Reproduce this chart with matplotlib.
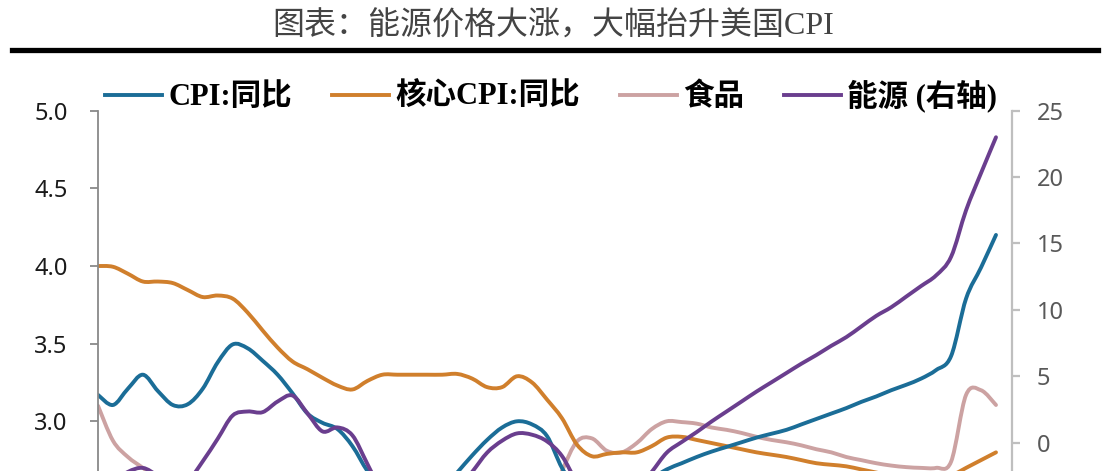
import numpy as np
import matplotlib.pyplot as plt
from matplotlib.lines import Line2D
from matplotlib.path import Path
from matplotlib.patches import PathPatch

plt.rcParams['font.family'] = ['Liberation Serif', 'Noto Sans CJK SC']

# monthly index (x-axis labels are cut off in the source picture)
idx = np.arange(61)

cpi = [3.17, 3.105, 3.21, 3.30, 3.195, 3.105, 3.11, 3.21, 3.38, 3.495,
       3.47, 3.39, 3.30, 3.18, 3.05, 2.99, 2.95, 2.84, 2.68, 2.56,
       2.50, 2.48, 2.50, 2.56, 2.67, 2.78, 2.88, 2.96, 3.00, 2.98,
       2.905, 2.70, 2.56, 2.50, 2.48, 2.50, 2.56, 2.63, 2.69, 2.73,
       2.77, 2.805, 2.835, 2.865, 2.895, 2.92, 2.945, 2.98, 3.015, 3.05,
       3.085, 3.125, 3.16, 3.20, 3.235, 3.275, 3.33, 3.42, 3.79, 3.99,
       4.20]

core = [4.00, 3.995, 3.95, 3.90, 3.90, 3.89, 3.845, 3.80, 3.81, 3.79,
        3.70, 3.585, 3.475, 3.385, 3.335, 3.28, 3.23, 3.205, 3.26, 3.30,
        3.30, 3.30, 3.30, 3.30, 3.305, 3.275, 3.22, 3.22, 3.29, 3.25,
        3.14, 3.02, 2.85, 2.775, 2.79, 2.80, 2.80, 2.84, 2.895, 2.90,
        2.88, 2.86, 2.84, 2.82, 2.80, 2.785, 2.77, 2.75, 2.73, 2.72,
        2.71, 2.69, 2.67, 2.65, 2.635, 2.62, 2.62, 2.65, 2.70, 2.75,
        2.80]

food = [3.10, 2.875, 2.77, 2.70, 2.63, 2.57, 2.53, 2.50, 2.47, 2.45,
        2.43, 2.42, 2.40, 2.40, 2.38, 2.37, 2.36, 2.36, 2.35, 2.36,
        2.38, 2.40, 2.42, 2.44, 2.45, 2.45, 2.46, 2.47, 2.46, 2.45,
        2.45, 2.68, 2.87, 2.89, 2.81, 2.80, 2.86, 2.95, 3.00, 2.995,
        2.985, 2.96, 2.945, 2.925, 2.90, 2.88, 2.865, 2.845, 2.82, 2.80,
        2.77, 2.75, 2.73, 2.715, 2.705, 2.70, 2.70, 2.74, 3.17, 3.20,
        3.105]

energy = [-4.0, -3.0, -2.2, -1.9, -2.5, -3.3, -2.9, -1.4, 0.3, 2.05,
          2.35, 2.3, 3.1, 3.55, 2.2, 0.85, 1.15, 0.55, -1.6, -3.8,
          -5.0, -5.5, -5.3, -4.6, -3.6, -2.2, -0.75, 0.15, 0.7, 0.6,
          0.1, -1.0, -3.0, -4.5, -5.0, -4.6, -3.6, -2.2, -0.75, 0.05,
          0.8, 1.6, 2.35, 3.1, 3.85, 4.55, 5.25, 5.95, 6.6, 7.3,
          7.95, 8.75, 9.55, 10.2, 11.0, 11.8, 12.6, 14.0, 17.5, 20.3,
          23.0]

labels = ['CPI:同比', '核心CPI:同比', '食品', '能源 (右轴)']
colors = ['#1B6D97', '#D07F2C', '#CCA2A2', '#6A3E8E']
left_ticks = [3.0, 3.5, 4.0, 4.5, 5.0]
right_ticks = [0, 5, 10, 15, 20, 25]


def smooth_line(ax, x, y, color, lw):
    # Excel-style smoothed line: cubic bezier through every data point
    x = np.asarray(x, float)
    y = np.asarray(y, float)
    verts = [(x[0], y[0])]
    codes = [Path.MOVETO]
    n = len(x)
    for i in range(n - 1):
        i0 = max(i - 1, 0)
        i3 = min(i + 2, n - 1)
        c1 = (x[i] + (x[i + 1] - x[i0]) / 6, y[i] + (y[i + 1] - y[i0]) / 6)
        c2 = (x[i + 1] - (x[i3] - x[i]) / 6, y[i + 1] - (y[i3] - y[i]) / 6)
        verts += [c1, c2, (x[i + 1], y[i + 1])]
        codes += [Path.CURVE4] * 3
    patch = PathPatch(Path(verts, codes), fill=False, edgecolor=color,
                      lw=lw, capstyle='round', joinstyle='round')
    ax.add_patch(patch)


W, H = 1106, 471
fig = plt.figure(figsize=(W / 100, H / 100), dpi=100)

# axes runs past the bottom edge, the source image is cropped there
ax = fig.add_axes([98 / W, (H - 731.9) / H, (1012 - 98) / W, 621.2 / H])
ax2 = ax.twinx()

lw = 2.8
smooth_line(ax, idx, food, colors[2], lw)
smooth_line(ax, idx, core, colors[1], lw)
smooth_line(ax, idx, cpi, colors[0], lw)
smooth_line(ax2, idx, energy, colors[3], lw)

ax.set_xlim(0, 61.07)
ax.set_ylim(1.0, 5.0)
ax2.set_ylim(25 - 621.2 / 13.28, 25)
ax.set_xticks([])

ax.set_yticks(left_ticks)
ax.set_yticklabels(['%.1f' % t for t in left_ticks], family='Noto Sans',
                   fontsize=17, color='#1a1a1a')
ax2.set_yticks(right_ticks)
ax2.set_yticklabels([str(t) for t in right_ticks], family='Noto Sans',
                    fontsize=17, color='#595959')

for s in ['top', 'right', 'bottom']:
    ax.spines[s].set_visible(False)
for s in ['top', 'left', 'bottom']:
    ax2.spines[s].set_visible(False)
ax.spines['left'].set_color('#898989')
ax.spines['left'].set_linewidth(1.3)
ax2.spines['right'].set_color('#bfbfbf')
ax2.spines['right'].set_linewidth(1.6)
ax.tick_params(axis='y', direction='out', length=6, width=1.3,
               color='#898989', pad=16)
ax2.tick_params(axis='y', direction='out', length=6, width=1.6,
                color='#bfbfbf', pad=12)

handles = [Line2D([], [], color=c, lw=lw) for c in colors]
ax.legend(handles, labels, ncol=4,
          loc='center left', bbox_to_anchor=(105 / W, 1 - 96 / H),
          bbox_transform=fig.transFigure, frameon=False,
          prop=dict(family=['Liberation Serif', 'Noto Sans CJK SC'],
                    weight='bold', size=22),
          handlelength=1.87, handletextpad=0.2, columnspacing=1.31,
          borderpad=0, borderaxespad=0)

fig.text(0.5, 1 - 27 / H, '图表：能源价格大涨，大幅抬升美国CPI',
         ha='center', va='center', fontsize=23, color='#444444',
         weight='light')
fig.add_artist(Line2D([12 / W, 1098 / W], [1 - 50 / H, 1 - 50 / H],
                      lw=3.8, color='black'))

fig.savefig('out.png', dpi=100)
